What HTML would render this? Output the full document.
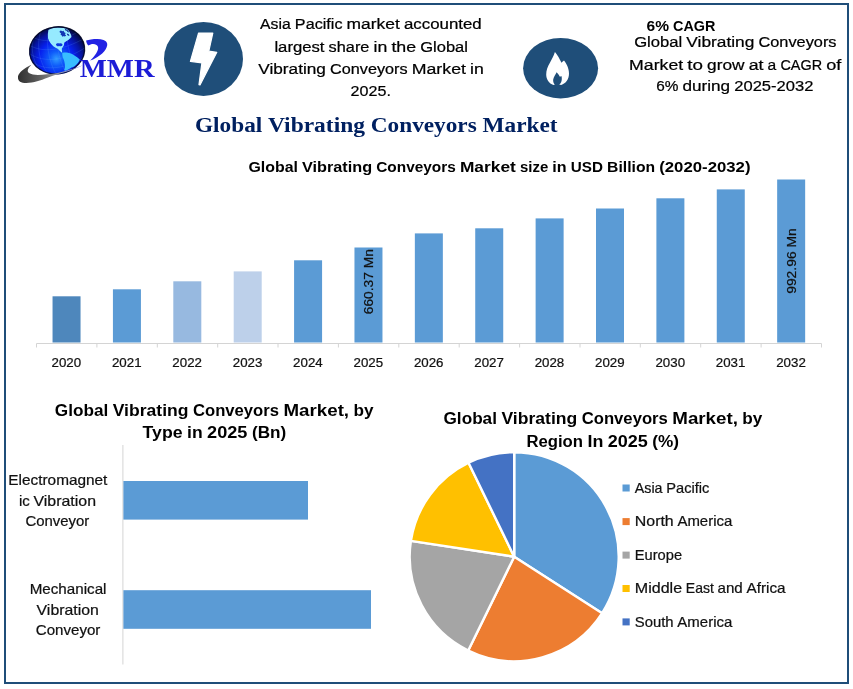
<!DOCTYPE html>
<html lang="en"><head><meta charset="utf-8"><title>Global Vibrating Conveyors Market</title>
<style>html,body{margin:0;padding:0;background:#fff;overflow:hidden}svg{display:block}text{font-family:"Liberation Sans",sans-serif;}text.serif{font-family:"Liberation Serif",serif;}</style>
</head><body>
<svg width="853" height="689" viewBox="0 0 853 689">
<rect x="0" y="0" width="853" height="689" fill="#fff"/>
<rect x="5" y="4" width="843" height="679" fill="none" stroke="#1f4e79" stroke-width="2"/>
<defs>
<radialGradient id="gl" gradientUnits="userSpaceOnUse" cx="55.3" cy="58.6" r="36"><stop offset="0" stop-color="#2f9bff"/><stop offset="0.2" stop-color="#0f5cfa"/><stop offset="0.48" stop-color="#0620ee"/><stop offset="0.7" stop-color="#0614a0"/><stop offset="0.86" stop-color="#030a4c"/><stop offset="1" stop-color="#010420"/></radialGradient>
<linearGradient id="sw" gradientUnits="userSpaceOnUse" x1="18" y1="0" x2="86" y2="0"><stop offset="0" stop-color="#303030"/><stop offset="0.3" stop-color="#5c5c5c"/><stop offset="0.55" stop-color="#8e8e92"/><stop offset="0.78" stop-color="#8a94c8"/><stop offset="1" stop-color="#1a22d0"/></linearGradient>
<clipPath id="gc"><ellipse cx="57.1" cy="50.3" rx="28.0" ry="23.9" transform="rotate(-8 57.1 50.3)"/></clipPath>
</defs>
<g id="logo">
<ellipse cx="57.1" cy="50.3" rx="28.0" ry="23.9" transform="rotate(-8 57.1 50.3)" fill="url(#gl)"/>
<g clip-path="url(#gc)">
<g fill="none" stroke="#6ab0ff" stroke-opacity="0.33" stroke-width="0.55">
<path d="M29 45 C42 53 62 51 85 38"/><path d="M30 54 C44 63 66 61 86 47"/><path d="M34 63 C46 71 66 69 84 57"/><path d="M32 37 C44 43 60 42 80 31"/>
<path d="M42 28 C36 42 38 60 48 74"/><path d="M50 26 C45 42 48 60 57 76"/><path d="M36 32 C30 44 31 58 40 70"/><path d="M58 26 C55 40 58 58 66 73"/><path d="M67 27 C66 40 69 56 76 68"/>
</g>
<path d="M48.4 30.1 C50 29 51.8 28.4 53.6 28.1 C55.8 27.7 58 27.6 60.2 27.7 C62.4 27.8 64.7 28.2 66.7 28.9 C68.2 29.8 69.3 31.1 69.9 32.6 C70.8 34 71.4 35.5 71.5 37 C70.6 38.1 69.5 39.1 68.3 39.9 C66.9 40.8 65.4 41.6 64.2 42.7 C64.2 43.7 64.1 44.7 63.8 45.6 C63.2 46.7 62.4 47.7 61.8 48.8 C61.8 50.2 62 51.6 62.2 52.9 C61.5 52.4 60.8 51.9 60.2 51.3 C59.4 50.4 58.6 49.6 57.7 48.8 C56.3 48.1 54.9 47.3 53.6 46.4 C52.4 45.4 51.3 44.3 50.4 43.1 C49.4 41.6 48.6 40 48 38.3 C47.7 35.6 47.8 32.8 48.4 30.1 Z" fill="#96eaff"/>
<path d="M59.6 31 L61 30.4 L62.2 31.2 L63.6 30.8 L64.2 32.2 L65.6 33 L65 34.4 L66.2 35.6 L64.8 36.6 L63.6 36 L62.8 37 L61.8 35.4 L60.6 34.8 L61 33.2 L59.8 32.4 Z" fill="#1236b4"/>
<path d="M64.8 28.8 L66.6 29.4 L68.2 30.8 L69.2 32.6 L67.6 32 L66.8 30.8 L65.4 30.4 Z" fill="#0b1f8c"/>
<path d="M66.8 33.6 L68.4 34 L69.6 35.4 L68.2 35.8 L67.2 34.8 Z" fill="#0b2098"/>
<path d="M55.9 44.4 C56.4 43.2 58 42.9 59.2 43.5 C60.2 43 61.8 43.1 62.4 44.2 C62.8 45.4 61.8 46.3 60.6 46.2 C59.8 46.2 59.4 45.8 59 45.9 C58 46.5 56.4 46.2 55.9 44.4 Z" fill="#0c38e0"/>
<path d="M62.2 52.9 C63.7 52.5 65.2 52.4 66.7 52.5 C68.4 52.7 70 53.1 71.5 53.7 C73 54.4 74.4 55.2 75.6 56.2 C77.1 57.1 78.5 58.2 79.7 59.4 C79.4 60.6 78.8 61.7 78 62.7 C77.1 63.9 76 65 74.8 65.9 C73.8 66.6 72.7 67.1 71.5 67.5 C69.6 68.7 67.7 69.8 65.8 70.8 C65.2 70.7 64.6 70.4 64.2 70 C64.6 68.7 64.9 67.3 65 65.9 C64.9 64.2 64.6 62.6 64.2 61 C63.8 59.6 63.2 58.3 62.6 57 C62.3 55.7 62.2 54.3 62.2 52.9 Z" fill="#38bdff"/>
</g>
<ellipse cx="57.1" cy="50.3" rx="27.6" ry="23.5" transform="rotate(-8 57.1 50.3)" fill="none" stroke="#01051c" stroke-opacity="0.75" stroke-width="1.3"/>
<path d="M31.4 64.8 C25 68 18.5 72.5 18 76.5 C17.6 80 19.5 82.6 24.5 82.9 C32 83.4 41 80.5 46.7 78 C54 75.2 61 73 67.8 71.2 C73 69.6 78 67.6 83 65.2 C76.5 67.6 69.5 70 62.5 71.7 C57 73 52 73.9 46.7 74.3 C42 74.9 36.5 75.3 32.9 74.5 C29.5 73.8 27.6 72.6 27.7 70.8 C27.8 68.6 29.6 66.6 31.4 64.8 Z" fill="url(#sw)"/>
<path d="M86.1 40.5 C87.6 40 89.3 39.7 90.9 39.4 C93 39.1 95.2 39 97.4 39 C99.6 39.1 101.7 39.4 103.5 40.1 C104.9 40.6 106 41.3 106.6 42.3 C107.2 43.2 107.4 44.2 107.2 45.3 C107 46.7 106.4 48 105.7 49.2 C104.8 50.8 103.5 52.3 102.2 53.6 C100.8 54.9 99.1 56.1 97.4 57.1 C96 58 94.6 58.8 93.1 59.5 C92.2 59.9 91.2 60.3 90.2 60.6 C91.2 59.6 92.2 58.6 93.1 57.5 C94.2 56.3 95.2 55 96.1 53.6 C96.8 52.5 97.4 51.3 97.8 50.1 C98.1 49.2 98.2 48.4 98.1 47.5 C98 46.5 97.3 45.7 96.5 45.1 C95.5 44.4 94.3 44.1 93.1 44 C91.5 44 89.8 44.6 88.3 45.5 C87.6 44.8 87 44 86.7 43.1 C86.4 42.2 86.2 41.4 86.1 40.5 Z" fill="#2222e4"/>
<text class="serif" x="79.8" y="76.7" font-size="25.6" font-weight="bold" fill="#1c1cd6" textLength="74.8" lengthAdjust="spacingAndGlyphs">MMR</text>
</g>
<ellipse cx="203.5" cy="58.9" rx="39.5" ry="37" fill="#1f4e79"/>
<path d="M198.6 33 L212.8 33 L208.8 51.2 L216.8 52.3 L200 85 L199 84.6 L201.9 62.9 L190.4 61.3 Z" fill="#fff" stroke="#fff" stroke-width="1.2" stroke-linejoin="round"/>
<ellipse cx="560.6" cy="68.2" rx="37.5" ry="30.2" fill="#1f4e79"/>
<path d="M554.9 51.9 C556.5 53.5 559.5 58 561.4 62.8 C562.2 62 563.3 61.3 564 60.6 C566 63 569 68 569 73.5 C569 79 566 83.5 561.1 84.9 L559.2 84.6 C561 83.3 562 81 561.8 78 C561.8 77.2 561.6 76.5 561.4 75.9 C561 76.3 560.3 76.5 559.6 76.4 C559 75 557.8 73.4 556.6 72.2 C556 74 553.6 76.5 553.2 79.5 C552.9 81.8 553.7 83.5 554.9 84.6 L553.4 84.9 C549 83.5 546.2 79.5 546.2 74.5 C546.2 66 552.5 60 554.9 51.9 Z" fill="#fff"/>
<text y="29.40" font-size="14.7" font-weight="normal" fill="#000"  stroke="#000" stroke-width="0.22"><tspan x="260.10" textLength="30.63" lengthAdjust="spacingAndGlyphs">Asia</tspan> <tspan x="294.88" textLength="47.59" lengthAdjust="spacingAndGlyphs">Pacific</tspan> <tspan x="346.59" textLength="53.21" lengthAdjust="spacingAndGlyphs">market</tspan> <tspan x="403.93" textLength="77.77" lengthAdjust="spacingAndGlyphs">accounted</tspan></text>
<text y="51.70" font-size="14.7" font-weight="normal" fill="#000"  stroke="#000" stroke-width="0.22"><tspan x="274.40" textLength="50.12" lengthAdjust="spacingAndGlyphs">largest</tspan> <tspan x="328.63" textLength="40.82" lengthAdjust="spacingAndGlyphs">share</tspan> <tspan x="373.57" textLength="13.75" lengthAdjust="spacingAndGlyphs">in</tspan> <tspan x="391.43" textLength="24.72" lengthAdjust="spacingAndGlyphs">the</tspan> <tspan x="420.26" textLength="47.74" lengthAdjust="spacingAndGlyphs">Global</tspan></text>
<text y="73.70" font-size="14.7" font-weight="normal" fill="#000"  stroke="#000" stroke-width="0.22"><tspan x="258.30" textLength="67.65" lengthAdjust="spacingAndGlyphs">Vibrating</tspan> <tspan x="330.07" textLength="77.57" lengthAdjust="spacingAndGlyphs">Conveyors</tspan> <tspan x="411.76" textLength="54.16" lengthAdjust="spacingAndGlyphs">Market</tspan> <tspan x="470.04" textLength="13.76" lengthAdjust="spacingAndGlyphs">in</tspan></text>
<text y="95.80" font-size="14.7" font-weight="normal" fill="#000"  stroke="#000" stroke-width="0.22"><tspan x="350.60" textLength="40.30" lengthAdjust="spacingAndGlyphs">2025.</tspan></text>
<text y="30.70" font-size="15.2" font-weight="bold" fill="#000" ><tspan x="646.50" textLength="22.43" lengthAdjust="spacingAndGlyphs">6%</tspan> <tspan x="673.03" textLength="42.37" lengthAdjust="spacingAndGlyphs">CAGR</tspan></text>
<text y="46.90" font-size="14.7" font-weight="normal" fill="#000"  stroke="#000" stroke-width="0.22"><tspan x="634.20" textLength="48.05" lengthAdjust="spacingAndGlyphs">Global</tspan> <tspan x="686.39" textLength="68.00" lengthAdjust="spacingAndGlyphs">Vibrating</tspan> <tspan x="758.53" textLength="77.97" lengthAdjust="spacingAndGlyphs">Conveyors</tspan></text>
<text y="69.80" font-size="14.7" font-weight="normal" fill="#000"  stroke="#000" stroke-width="0.22"><tspan x="629.10" textLength="54.06" lengthAdjust="spacingAndGlyphs">Market</tspan> <tspan x="687.27" textLength="15.68" lengthAdjust="spacingAndGlyphs">to</tspan> <tspan x="707.07" textLength="37.47" lengthAdjust="spacingAndGlyphs">grow</tspan> <tspan x="748.70" textLength="14.81" lengthAdjust="spacingAndGlyphs">at</tspan> <tspan x="767.63" textLength="8.70" lengthAdjust="spacingAndGlyphs">a</tspan> <tspan x="780.45" textLength="41.60" lengthAdjust="spacingAndGlyphs">CAGR</tspan> <tspan x="826.16" textLength="15.10" lengthAdjust="spacingAndGlyphs">of</tspan></text>
<text y="91.30" font-size="14.7" font-weight="normal" fill="#000"  stroke="#000" stroke-width="0.22"><tspan x="656.20" textLength="22.18" lengthAdjust="spacingAndGlyphs">6%</tspan> <tspan x="682.48" textLength="47.64" lengthAdjust="spacingAndGlyphs">during</tspan> <tspan x="734.23" textLength="79.17" lengthAdjust="spacingAndGlyphs">2025-2032</tspan></text>
<text class="serif" y="131.50" font-size="21.4" font-weight="bold" fill="#002060" ><tspan x="195.00" textLength="67.23" lengthAdjust="spacingAndGlyphs">Global</tspan> <tspan x="268.05" textLength="96.93" lengthAdjust="spacingAndGlyphs">Vibrating</tspan> <tspan x="370.79" textLength="105.97" lengthAdjust="spacingAndGlyphs">Conveyors</tspan> <tspan x="482.57" textLength="74.93" lengthAdjust="spacingAndGlyphs">Market</tspan></text>
<text y="171.90" font-size="15.3" font-weight="bold" fill="#000" ><tspan x="248.50" textLength="49.39" lengthAdjust="spacingAndGlyphs">Global</tspan> <tspan x="302.03" textLength="70.05" lengthAdjust="spacingAndGlyphs">Vibrating</tspan> <tspan x="376.22" textLength="79.56" lengthAdjust="spacingAndGlyphs">Conveyors</tspan> <tspan x="459.92" textLength="55.89" lengthAdjust="spacingAndGlyphs">Market</tspan> <tspan x="519.95" textLength="28.28" lengthAdjust="spacingAndGlyphs">size</tspan> <tspan x="552.37" textLength="14.33" lengthAdjust="spacingAndGlyphs">in</tspan> <tspan x="570.84" textLength="32.15" lengthAdjust="spacingAndGlyphs">USD</tspan> <tspan x="607.12" textLength="47.96" lengthAdjust="spacingAndGlyphs">Billion</tspan> <tspan x="659.22" textLength="91.28" lengthAdjust="spacingAndGlyphs">(2020-2032)</tspan></text>
<path d="M36.5 343.5 H821.5" stroke="#d4d4d4" stroke-width="1" fill="none"/>
<path d="M36.5 343.5 V347.5" stroke="#d4d4d4" stroke-width="1" fill="none"/>
<path d="M96.9 343.5 V347.5" stroke="#d4d4d4" stroke-width="1" fill="none"/>
<path d="M157.3 343.5 V347.5" stroke="#d4d4d4" stroke-width="1" fill="none"/>
<path d="M217.7 343.5 V347.5" stroke="#d4d4d4" stroke-width="1" fill="none"/>
<path d="M278.0 343.5 V347.5" stroke="#d4d4d4" stroke-width="1" fill="none"/>
<path d="M338.4 343.5 V347.5" stroke="#d4d4d4" stroke-width="1" fill="none"/>
<path d="M398.8 343.5 V347.5" stroke="#d4d4d4" stroke-width="1" fill="none"/>
<path d="M459.2 343.5 V347.5" stroke="#d4d4d4" stroke-width="1" fill="none"/>
<path d="M519.6 343.5 V347.5" stroke="#d4d4d4" stroke-width="1" fill="none"/>
<path d="M580.0 343.5 V347.5" stroke="#d4d4d4" stroke-width="1" fill="none"/>
<path d="M640.3 343.5 V347.5" stroke="#d4d4d4" stroke-width="1" fill="none"/>
<path d="M700.7 343.5 V347.5" stroke="#d4d4d4" stroke-width="1" fill="none"/>
<path d="M761.1 343.5 V347.5" stroke="#d4d4d4" stroke-width="1" fill="none"/>
<path d="M821.5 343.5 V347.5" stroke="#d4d4d4" stroke-width="1" fill="none"/>
<rect x="52.54" y="296.3" width="28" height="46.2" fill="#4e87bc"/>
<text y="366.80" font-size="12.4" font-weight="normal" fill="#111"  stroke="#111" stroke-width="0.22"><tspan x="51.59" textLength="29.60" lengthAdjust="spacingAndGlyphs">2020</tspan></text>
<rect x="112.93" y="289.3" width="28" height="53.2" fill="#5b9bd5"/>
<text y="366.80" font-size="12.4" font-weight="normal" fill="#111"  stroke="#111" stroke-width="0.22"><tspan x="111.98" textLength="29.60" lengthAdjust="spacingAndGlyphs">2021</tspan></text>
<rect x="173.31" y="281.3" width="28" height="61.2" fill="#97b9e0"/>
<text y="366.80" font-size="12.4" font-weight="normal" fill="#111"  stroke="#111" stroke-width="0.22"><tspan x="172.36" textLength="29.60" lengthAdjust="spacingAndGlyphs">2022</tspan></text>
<rect x="233.70" y="271.4" width="28" height="71.1" fill="#bdd0ea"/>
<text y="366.80" font-size="12.4" font-weight="normal" fill="#111"  stroke="#111" stroke-width="0.22"><tspan x="232.75" textLength="29.60" lengthAdjust="spacingAndGlyphs">2023</tspan></text>
<rect x="294.08" y="260.3" width="28" height="82.2" fill="#5b9bd5"/>
<text y="366.80" font-size="12.4" font-weight="normal" fill="#111"  stroke="#111" stroke-width="0.22"><tspan x="293.13" textLength="29.60" lengthAdjust="spacingAndGlyphs">2024</tspan></text>
<rect x="354.47" y="247.5" width="28" height="95.0" fill="#5b9bd5"/>
<text y="366.80" font-size="12.4" font-weight="normal" fill="#111"  stroke="#111" stroke-width="0.22"><tspan x="353.52" textLength="29.60" lengthAdjust="spacingAndGlyphs">2025</tspan></text>
<rect x="414.85" y="233.4" width="28" height="109.1" fill="#5b9bd5"/>
<text y="366.80" font-size="12.4" font-weight="normal" fill="#111"  stroke="#111" stroke-width="0.22"><tspan x="413.90" textLength="29.60" lengthAdjust="spacingAndGlyphs">2026</tspan></text>
<rect x="475.23" y="228.3" width="28" height="114.2" fill="#5b9bd5"/>
<text y="366.80" font-size="12.4" font-weight="normal" fill="#111"  stroke="#111" stroke-width="0.22"><tspan x="474.28" textLength="29.60" lengthAdjust="spacingAndGlyphs">2027</tspan></text>
<rect x="535.62" y="218.4" width="28" height="124.1" fill="#5b9bd5"/>
<text y="366.80" font-size="12.4" font-weight="normal" fill="#111"  stroke="#111" stroke-width="0.22"><tspan x="534.67" textLength="29.60" lengthAdjust="spacingAndGlyphs">2028</tspan></text>
<rect x="596.00" y="208.5" width="28" height="134.0" fill="#5b9bd5"/>
<text y="366.80" font-size="12.4" font-weight="normal" fill="#111"  stroke="#111" stroke-width="0.22"><tspan x="595.05" textLength="29.60" lengthAdjust="spacingAndGlyphs">2029</tspan></text>
<rect x="656.39" y="198.3" width="28" height="144.2" fill="#5b9bd5"/>
<text y="366.80" font-size="12.4" font-weight="normal" fill="#111"  stroke="#111" stroke-width="0.22"><tspan x="655.44" textLength="29.60" lengthAdjust="spacingAndGlyphs">2030</tspan></text>
<rect x="716.77" y="189.4" width="28" height="153.1" fill="#5b9bd5"/>
<text y="366.80" font-size="12.4" font-weight="normal" fill="#111"  stroke="#111" stroke-width="0.22"><tspan x="715.82" textLength="29.60" lengthAdjust="spacingAndGlyphs">2031</tspan></text>
<rect x="777.16" y="179.5" width="28" height="163.0" fill="#5b9bd5"/>
<text y="366.80" font-size="12.4" font-weight="normal" fill="#111"  stroke="#111" stroke-width="0.22"><tspan x="776.21" textLength="29.60" lengthAdjust="spacingAndGlyphs">2032</tspan></text>
<text transform="translate(373.1 314.2) rotate(-90)" font-size="12.4" fill="#111" stroke="#111" stroke-width="0.22" textLength="65" lengthAdjust="spacingAndGlyphs">660.37 Mn</text>
<text transform="translate(795.8 293.8) rotate(-90)" font-size="12.4" fill="#111" stroke="#111" stroke-width="0.22" textLength="65.5" lengthAdjust="spacingAndGlyphs">992.96 Mn</text>
<text y="415.80" font-size="17.4" font-weight="bold" fill="#000" ><tspan x="54.80" textLength="53.43" lengthAdjust="spacingAndGlyphs">Global</tspan> <tspan x="112.71" textLength="75.79" lengthAdjust="spacingAndGlyphs">Vibrating</tspan> <tspan x="192.98" textLength="86.07" lengthAdjust="spacingAndGlyphs">Conveyors</tspan> <tspan x="283.53" textLength="65.57" lengthAdjust="spacingAndGlyphs">Market,</tspan> <tspan x="353.58" textLength="20.02" lengthAdjust="spacingAndGlyphs">by</tspan></text>
<text y="438.40" font-size="17.4" font-weight="bold" fill="#000" ><tspan x="142.60" textLength="39.95" lengthAdjust="spacingAndGlyphs">Type</tspan> <tspan x="187.05" textLength="15.57" lengthAdjust="spacingAndGlyphs">in</tspan> <tspan x="207.12" textLength="40.34" lengthAdjust="spacingAndGlyphs">2025</tspan> <tspan x="251.95" textLength="34.25" lengthAdjust="spacingAndGlyphs">(Bn)</tspan></text>
<path d="M122.9 445 V664.5" stroke="#d4d4d4" stroke-width="1" fill="none"/>
<rect x="123.4" y="481" width="184.6" height="38.6" fill="#5b9bd5"/>
<rect x="123.4" y="590.2" width="247.6" height="38.6" fill="#5b9bd5"/>
<text y="485.10" font-size="14.4" font-weight="normal" fill="#111"  stroke="#111" stroke-width="0.22"><tspan x="8.30" textLength="99.10" lengthAdjust="spacingAndGlyphs">Electromagnet</tspan></text>
<text y="505.70" font-size="14.4" font-weight="normal" fill="#111"  stroke="#111" stroke-width="0.22"><tspan x="18.90" textLength="10.84" lengthAdjust="spacingAndGlyphs">ic</tspan> <tspan x="33.49" textLength="62.51" lengthAdjust="spacingAndGlyphs">Vibration</tspan></text>
<text y="525.70" font-size="14.4" font-weight="normal" fill="#111"  stroke="#111" stroke-width="0.22"><tspan x="25.40" textLength="63.90" lengthAdjust="spacingAndGlyphs">Conveyor</tspan></text>
<text y="594.10" font-size="14.4" font-weight="normal" fill="#111"  stroke="#111" stroke-width="0.22"><tspan x="29.70" textLength="76.80" lengthAdjust="spacingAndGlyphs">Mechanical</tspan></text>
<text y="614.90" font-size="14.4" font-weight="normal" fill="#111"  stroke="#111" stroke-width="0.22"><tspan x="36.60" textLength="62.20" lengthAdjust="spacingAndGlyphs">Vibration</tspan></text>
<text y="634.80" font-size="14.4" font-weight="normal" fill="#111"  stroke="#111" stroke-width="0.22"><tspan x="35.80" textLength="64.60" lengthAdjust="spacingAndGlyphs">Conveyor</tspan></text>
<text y="424.30" font-size="17.4" font-weight="bold" fill="#000" ><tspan x="443.50" textLength="53.45" lengthAdjust="spacingAndGlyphs">Global</tspan> <tspan x="501.43" textLength="75.81" lengthAdjust="spacingAndGlyphs">Vibrating</tspan> <tspan x="581.72" textLength="86.10" lengthAdjust="spacingAndGlyphs">Conveyors</tspan> <tspan x="672.30" textLength="65.59" lengthAdjust="spacingAndGlyphs">Market,</tspan> <tspan x="742.37" textLength="20.03" lengthAdjust="spacingAndGlyphs">by</tspan></text>
<text y="447.30" font-size="17.4" font-weight="bold" fill="#000" ><tspan x="526.40" textLength="56.56" lengthAdjust="spacingAndGlyphs">Region</tspan> <tspan x="587.43" textLength="15.89" lengthAdjust="spacingAndGlyphs">In</tspan> <tspan x="607.79" textLength="40.09" lengthAdjust="spacingAndGlyphs">2025</tspan> <tspan x="652.35" textLength="26.75" lengthAdjust="spacingAndGlyphs">(%)</tspan></text>
<path d="M514.2 556.7 L514.20 452.20 A104.5 104.5 0 0 1 602.14 613.16 Z" fill="#5b9bd5" stroke="#fff" stroke-width="2.4" stroke-linejoin="round"/>
<path d="M514.2 556.7 L602.14 613.16 A104.5 104.5 0 0 1 468.23 650.54 Z" fill="#ed7d31" stroke="#fff" stroke-width="2.4" stroke-linejoin="round"/>
<path d="M514.2 556.7 L468.23 650.54 A104.5 104.5 0 0 1 410.90 540.89 Z" fill="#a5a5a5" stroke="#fff" stroke-width="2.4" stroke-linejoin="round"/>
<path d="M514.2 556.7 L410.90 540.89 A104.5 104.5 0 0 1 468.55 462.70 Z" fill="#ffc000" stroke="#fff" stroke-width="2.4" stroke-linejoin="round"/>
<path d="M514.2 556.7 L468.55 462.70 A104.5 104.5 0 0 1 514.20 452.20 Z" fill="#4472c4" stroke="#fff" stroke-width="2.4" stroke-linejoin="round"/>
<rect x="622.5" y="484.5" width="7.2" height="7" fill="#5b9bd5"/>
<text y="492.50" font-size="14.4" font-weight="normal" fill="#111"  stroke="#111" stroke-width="0.22"><tspan x="634.80" textLength="27.71" lengthAdjust="spacingAndGlyphs">Asia</tspan> <tspan x="666.25" textLength="43.05" lengthAdjust="spacingAndGlyphs">Pacific</tspan></text>
<rect x="622.5" y="518.1" width="7.2" height="7" fill="#ed7d31"/>
<text y="526.00" font-size="14.4" font-weight="normal" fill="#111"  stroke="#111" stroke-width="0.22"><tspan x="634.80" textLength="38.93" lengthAdjust="spacingAndGlyphs">North</tspan> <tspan x="677.43" textLength="54.86" lengthAdjust="spacingAndGlyphs">America</tspan></text>
<rect x="622.5" y="551.6" width="7.2" height="7" fill="#a5a5a5"/>
<text y="559.60" font-size="14.4" font-weight="normal" fill="#111"  stroke="#111" stroke-width="0.22"><tspan x="634.80" textLength="47.30" lengthAdjust="spacingAndGlyphs">Europe</tspan></text>
<rect x="622.5" y="585.0" width="7.2" height="7" fill="#ffc000"/>
<text y="593.20" font-size="14.4" font-weight="normal" fill="#111"  stroke="#111" stroke-width="0.22"><tspan x="634.80" textLength="47.30" lengthAdjust="spacingAndGlyphs">Middle</tspan> <tspan x="685.83" textLength="27.97" lengthAdjust="spacingAndGlyphs">East</tspan> <tspan x="717.54" textLength="25.26" lengthAdjust="spacingAndGlyphs">and</tspan> <tspan x="746.53" textLength="39.06" lengthAdjust="spacingAndGlyphs">Africa</tspan></text>
<rect x="622.5" y="618.4" width="7.2" height="7" fill="#4472c4"/>
<text y="626.80" font-size="14.4" font-weight="normal" fill="#111"  stroke="#111" stroke-width="0.22"><tspan x="634.80" textLength="38.83" lengthAdjust="spacingAndGlyphs">South</tspan> <tspan x="677.33" textLength="54.96" lengthAdjust="spacingAndGlyphs">America</tspan></text>
</svg>
</body></html>
